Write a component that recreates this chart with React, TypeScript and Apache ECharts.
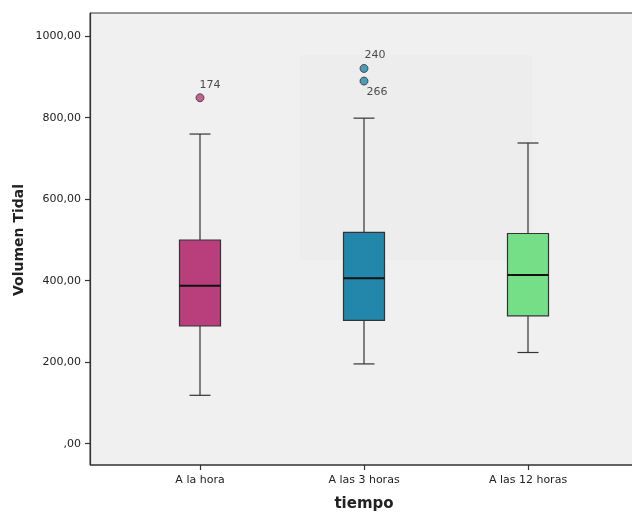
import React, { useEffect, useRef } from "react";
import * as echarts from "echarts";

const categories = ["A la hora", "A las 3 horas", "A las 12 horas"];
// [low whisker, Q1, median, Q3, high whisker]
const boxValues = [
  [118, 288, 387, 499, 759],
  [195, 302, 405, 518, 798],
  [223, 313, 413, 515, 737],
];
const boxColors = ["#b93e7c", "#2287aa", "#74df86"];
// [category index, value, case id]
const outliers: [number, number, string][] = [
  [0, 848, "174"],
  [1, 920, "240"],
  [1, 889, "266"],
];
const yTicks = [0, 200, 400, 600, 800, 1000];
const yAxisTitle = "Volumen Tidal";
const xAxisTitle = "tiempo";

const FONT = "DejaVu Sans";

export default function App() {
  const ref = useRef<HTMLDivElement>(null);
  useEffect(() => {
    if (!ref.current) return;
    const chart = echarts.init(ref.current, null, { renderer: "svg" });
    const labelPos: Record<string, number[]> = {
      "174": [4, -14],
      "240": [5, -15],
      "266": [7, 9],
    };
    chart.setOption({
      animation: false,
      grid: { left: 118, right: 22, top: 13, bottom: 47, containLabel: false },
      graphic: [
        {
          type: "rect",
          z: -10,
          shape: { x: 90, y: 13, width: 600, height: 452 },
          style: { fill: "#f0f0f0", stroke: "#333", lineWidth: 1 },
        },
        {
          type: "rect",
          z: -9,
          shape: { x: 300, y: 55, width: 232, height: 205 },
          style: { fill: "rgba(0,0,0,0.012)" },
        },
        {
          type: "line",
          z: 5,
          shape: { x1: 90, y1: 465, x2: 640, y2: 465 },
          style: { stroke: "#333", lineWidth: 1.2 },
        },
        {
          type: "text",
          x: 364,
          y: 503,
          style: {
            text: xAxisTitle,
            font: `bold 15px ${FONT}`,
            fill: "#222",
            align: "center",
            verticalAlign: "middle",
          },
        },
        {
          type: "text",
          x: 18,
          y: 240,
          rotation: Math.PI / 2,
          style: {
            text: yAxisTitle,
            font: `bold 14px ${FONT}`,
            fill: "#222",
            align: "center",
            verticalAlign: "middle",
          },
        },
      ],
      xAxis: {
        type: "category",
        data: categories,
        boundaryGap: true,
        axisLine: { show: false, onZero: false },
        axisTick: { show: true, alignWithLabel: true, length: 5, lineStyle: { color: "#333", width: 1.2 } },
        axisLabel: { color: "#222", fontSize: 11, fontFamily: FONT, margin: 9, interval: 0 },
        splitLine: { show: false },
      },
      yAxis: {
        type: "value",
        min: -53,
        max: 1056,
        offset: 28,
        axisLine: { show: true, lineStyle: { color: "#333", width: 1.2 } },
        axisTick: { show: true, length: 5, customValues: yTicks, lineStyle: { color: "#333", width: 1.2 } },
        axisLabel: {
          customValues: yTicks,
          color: "#222",
          fontSize: 11,
          fontFamily: FONT,
          margin: 9,
          formatter: (v: number) => (v === 0 ? ",00" : `${v},00`),
        },
        splitLine: { show: false },
      },
      series: [
        {
          type: "custom",
          z: 3,
          data: boxValues.map((b, i) => [i, ...b]),
          encode: { x: 0, y: [1, 2, 3, 4, 5] },
          renderItem: (params: any, api: any) => {
            const idx = api.value(0);
            const low = api.coord([idx, api.value(1)]);
            const q1 = api.coord([idx, api.value(2)]);
            const med = api.coord([idx, api.value(3)]);
            const q3 = api.coord([idx, api.value(4)]);
            const high = api.coord([idx, api.value(5)]);
            const cx = low[0];
            const hw = 20.5;
            const cw = 10.5;
            const lineStyle = { stroke: "#333", lineWidth: 1.2 };
            return {
              type: "group",
              children: [
                { type: "line", shape: { x1: cx, y1: high[1], x2: cx, y2: q3[1] }, style: lineStyle },
                { type: "line", shape: { x1: cx, y1: q1[1], x2: cx, y2: low[1] }, style: lineStyle },
                { type: "line", shape: { x1: cx - cw, y1: high[1], x2: cx + cw, y2: high[1] }, style: lineStyle },
                { type: "line", shape: { x1: cx - cw, y1: low[1], x2: cx + cw, y2: low[1] }, style: lineStyle },
                {
                  type: "rect",
                  shape: { x: cx - hw, y: q3[1], width: hw * 2, height: q1[1] - q3[1] },
                  style: { fill: boxColors[idx], stroke: "#333", lineWidth: 1.2 },
                },
                {
                  type: "line",
                  shape: { x1: cx - hw, y1: med[1], x2: cx + hw, y2: med[1] },
                  style: { stroke: "#111", lineWidth: 2 },
                },
              ],
            };
          },
        },
        {
          type: "scatter",
          z: 4,
          symbol: "circle",
          symbolSize: 8,
          data: outliers.map((o) => ({
            value: [o[0], o[1]],
            itemStyle: { color: boxColors[o[0]], borderColor: "#333", borderWidth: 1 },
            label: {
              show: true,
              formatter: o[2],
              position: labelPos[o[2]],
              color: "#222",
              fontSize: 11,
              fontFamily: FONT,
            },
          })),
        },
      ],
    });
    return () => chart.dispose();
  }, []);
  return (
    <div
      ref={ref}
      style={{ position: "fixed", left: 0, top: 0, width: 632, height: 512, overflow: "hidden" }}
    />
  );
}
